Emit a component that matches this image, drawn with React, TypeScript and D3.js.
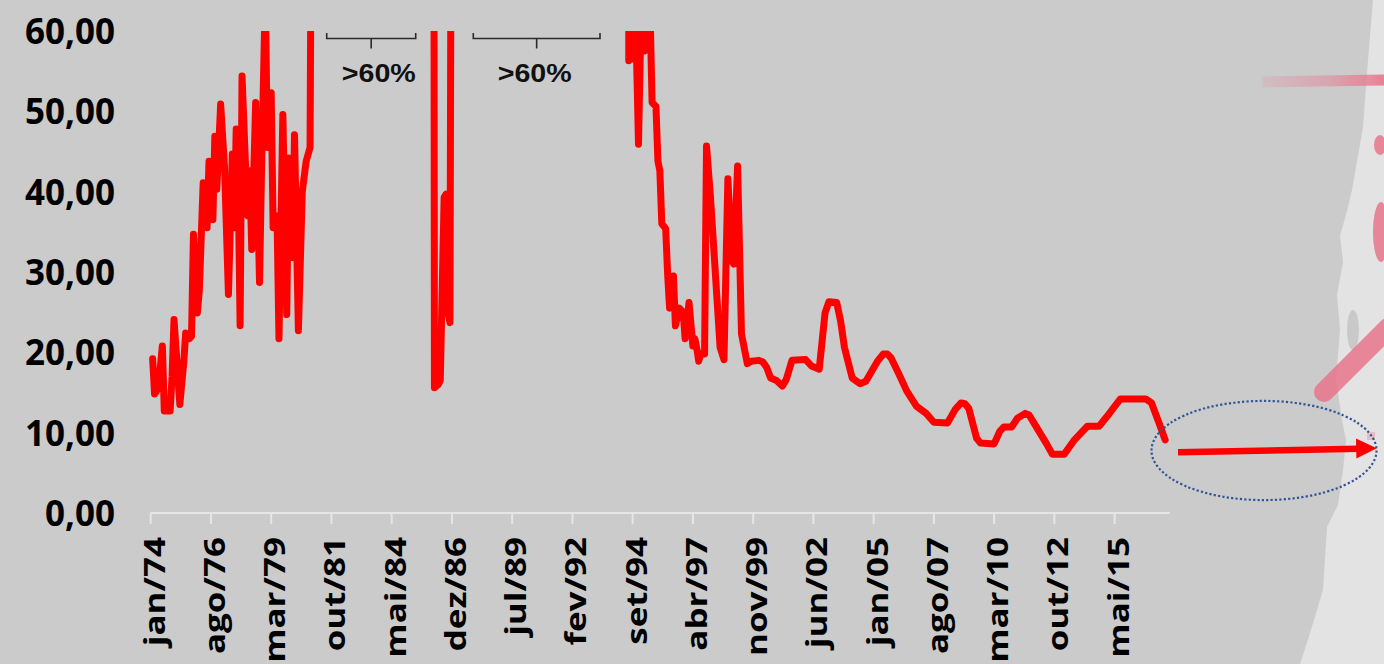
import React from "react";
import * as d3 from "d3";

// ---- data ----
const PT_MONTHS = ["jan", "fev", "mar", "abr", "mai", "jun", "jul", "ago", "set", "out", "nov", "dez"];

const xTickLabels = [
  "jan/74", "ago/76", "mar/79", "out/81", "mai/84", "dez/86", "jul/89", "fev/92", "set/94",
  "abr/97", "nov/99", "jun/02", "jan/05", "ago/07", "mar/10", "out/12", "mai/15",
];

const yTickValues = [0, 10, 20, 30, 40, 50, 60];

// Month of each observation (YYYY-MM) and the rate (% a.a.). Values > 60 are off the chart.
const rateDates = [
  "1974-02", "1974-03", "1974-05", "1974-07", "1974-08", "1974-11", "1974-12", "1975-01", "1975-04", "1975-06",
  "1975-07", "1975-09", "1975-10", "1975-11", "1976-01", "1976-02", "1976-04", "1976-06", "1976-07", "1976-09",
  "1976-10", "1976-11", "1977-01", "1977-03", "1977-05", "1977-07", "1977-08", "1977-09", "1977-10", "1977-11",
  "1977-12", "1978-02", "1978-03", "1978-04", "1978-05", "1978-07", "1978-09", "1978-10", "1978-12", "1979-01",
  "1979-03", "1979-04", "1979-06", "1979-07", "1979-09", "1979-11", "1979-12", "1980-02", "1980-03", "1980-05",
  "1980-07", "1980-09", "1980-11", "1980-12", "1982-01", "1983-01", "1984-01", "1985-01", "1986-02", "1986-03",
  "1986-05", "1986-06", "1986-08", "1986-09", "1986-10", "1986-11", "1986-12", "1988-01", "1989-01", "1990-01",
  "1991-01", "1992-01", "1993-01", "1994-01", "1994-06", "1994-07", "1994-08", "1994-09", "1994-10", "1994-11",
  "1994-12", "1995-01", "1995-02", "1995-03", "1995-04", "1995-05", "1995-06", "1995-07", "1995-09", "1995-10",
  "1995-11", "1995-12", "1996-02", "1996-03", "1996-04", "1996-06", "1996-07", "1996-09", "1996-11", "1996-12",
  "1997-02", "1997-04", "1997-05", "1997-06", "1997-07", "1997-08", "1997-10", "1997-11", "1998-01", "1998-06",
  "1998-08", "1998-10", "1998-12", "1999-01", "1999-03", "1999-05", "1999-08", "1999-10", "2000-02", "2000-04",
  "2000-06", "2000-08", "2000-11", "2001-02", "2001-04", "2001-07", "2002-02", "2002-05", "2002-09", "2002-12",
  "2003-02", "2003-06", "2003-08", "2003-10", "2004-02", "2004-06", "2004-09", "2005-03", "2005-06", "2005-08",
  "2005-10", "2006-02", "2006-06", "2006-11", "2007-04", "2007-08", "2008-03", "2008-07", "2008-10", "2008-12",
  "2009-02", "2009-06", "2009-08", "2010-03", "2010-06", "2010-08", "2010-12", "2011-03", "2011-07", "2011-09",
  "2012-01", "2012-06", "2012-09", "2013-03", "2013-08", "2014-03", "2014-09", "2015-02", "2015-08", "2016-09",
  "2016-12", "2017-04", "2017-07",
];

const rateValues = [
  19.2, 14.8, 15.6, 20.8, 12.7, 12.7, 17.0, 24.1, 13.5, 18.7,
  22.4, 21.7, 22.0, 34.7, 24.9, 27.6, 41.1, 35.5, 43.8, 36.5,
  46.9, 40.3, 50.9, 43.0, 27.2, 44.7, 35.5, 47.8, 42.0, 23.3,
  54.4, 42.0, 37.0, 42.6, 32.8, 51.1, 28.7, 42.2, 65.0, 45.5,
  52.3, 35.5, 37.0, 21.7, 49.6, 24.7, 44.2, 31.8, 47.1, 22.7,
  40.0, 43.8, 45.5, 95, 110, 150, 210, 220, 250, 15.6,
  16.0, 16.5, 39.3, 39.7, 25.0, 23.7, 120, 400, 900, 1200,
  800, 1100, 1500, 2500, 1800, 56.3, 62, 56.5, 62, 56.8,
  45.9, 58, 62, 57.5, 64, 68, 62, 51.1, 50.6, 43.8,
  42.6, 36.0, 35.4, 29.7, 25.5, 29.5, 23.3, 25.5, 25.0, 21.7,
  26.2, 20.8, 21.7, 20.5, 18.9, 19.8, 19.8, 45.7, 39.5, 20.6,
  19.1, 41.6, 31.4, 31.0, 43.2, 22.3, 18.6, 18.9, 19.0, 18.8,
  18.1, 16.8, 16.5, 15.8, 16.6, 19.0, 19.1, 18.3, 17.9, 24.9,
  26.3, 26.2, 23.9, 20.6, 16.8, 16.1, 16.4, 18.9, 19.8, 19.8,
  19.3, 17.3, 15.2, 13.3, 12.4, 11.3, 11.2, 12.9, 13.7, 13.6,
  13.0, 9.3, 8.7, 8.6, 10.2, 10.7, 10.7, 11.8, 12.4, 12.2,
  10.6, 8.6, 7.3, 7.3, 9.0, 10.8, 10.8, 12.3, 14.2, 14.2,
  13.7, 11.1, 9.1,
];

const offChartNote = ">60%";

// ---- helpers ----
const monthIndexOfDate = (s: string) => {
  const [yy, mm] = s.split("-").map(Number);
  return (yy - 1974) * 12 + (mm - 1);
};
const monthIndexOfLabel = (s: string) => {
  const [mon, yy] = s.split("/");
  const n = Number(yy);
  const year = n >= 50 ? 1900 + n : 2000 + n;
  return (year - 1974) * 12 + PT_MONTHS.indexOf(mon);
};

const W = 1384;
const H = 664;
const LABEL_FONT = "'Open Sans', 'Lato', sans-serif";

export default function App() {
  const x = d3.scaleLinear().domain([0, 524.5]).range([150.7, 1170]);
  const y = d3.scaleLinear().domain([0, 60]).range([513, 31]);

  const pts: [number, number][] = rateDates.map((d, i) => [monthIndexOfDate(d), rateValues[i]]);
  const line = d3
    .line<[number, number]>()
    .x((d) => x(d[0]))
    .y((d) => y(d[1]));

  const axisY = y(0);

  // light background silhouette on the right edge
  const silhouette: [number, number][] = [
    [1373, 0], [1368, 60], [1363, 127], [1352, 190], [1347, 211], [1340, 236], [1343, 262],
    [1337, 295], [1340, 330], [1336, 380], [1342, 420], [1346, 440], [1343, 470], [1338, 505],
    [1327, 527], [1323, 590], [1310, 633], [1300, 664], [W, 664], [W, 0],
  ];
  const silPath = d3.line()(silhouette) + "Z";

  const brackets = [
    { x0: 326.7, x1: 415.7, textX: 378.8 },
    { x0: 473.3, x1: 600, textX: 534.7 },
  ];

  return (
    <svg
      width={W}
      height={H}
      viewBox={`0 0 ${W} ${H}`}
      style={{ position: "absolute", left: 0, top: 0, display: "block" }}
    >
      <defs>
        <clipPath id="plotClip">
          <rect x={0} y={y(60)} width={W} height={H - y(60)} />
        </clipPath>
        <linearGradient id="pinkFade" x1="0" x2="1" y1="0" y2="0">
          <stop offset="0" stopColor="#e8768c" stopOpacity={0.15} />
          <stop offset="0.55" stopColor="#e8768c" stopOpacity={0.45} />
          <stop offset="1" stopColor="#e8768c" stopOpacity={0.9} />
        </linearGradient>
      </defs>

      {/* background */}
      <rect x={0} y={0} width={W} height={H} fill="#cbcbcb" />
      <path d={silPath} fill="#e3e3e3" />
      <ellipse cx={1353} cy={330} rx={6} ry={20} fill="#c9c9c9" />
      {/* faint pink decorations */}
      <line x1={1262} y1={82} x2={W} y2={80} stroke="url(#pinkFade)" strokeWidth={11} />
      <ellipse cx={1380} cy={145} rx={6} ry={10} fill="#e8768c" opacity={0.85} />
      <ellipse cx={1381} cy={232} rx={8} ry={30} fill="#e8768c" opacity={0.85} />
      <line x1={1324} y1={392} x2={W + 4} y2={328} stroke="#e8768c" strokeOpacity={0.85} strokeWidth={20} strokeLinecap="round" />
      <rect x={1367} y={432} width={8} height={8} fill="#e8768c" opacity={0.35} />

      {/* x axis */}
      <line x1={x(0)} x2={x(524.5)} y1={axisY} y2={axisY} stroke="#e6e6e6" strokeWidth={2} />
      {xTickLabels.map((lab) => {
        const m = monthIndexOfLabel(lab);
        const tx = x(m);
        return (
          <g key={lab}>
            <line x1={tx} x2={tx} y1={axisY} y2={axisY + 11} stroke="#e6e6e6" strokeWidth={2} />
            <text
              transform={`translate(${tx + 14},${axisY + 24}) rotate(-90) scale(1,0.8)`}
              textAnchor="end"
              fontFamily={LABEL_FONT}
              fontWeight={700}
              fontSize={35}
              fill="#000"
            >
              {lab}
            </text>
          </g>
        );
      })}

      {/* y labels */}
      {yTickValues.map((v) => (
        <text
          key={v}
          x={115}
          y={y(v) + 13}
          textAnchor="end"
          fontFamily={LABEL_FONT}
          fontWeight={700}
          fontSize={35}
          fill="#000"
        >
          {v.toFixed(2).replace(".", ",")}
        </text>
      ))}

      {/* data line */}
      <g clipPath="url(#plotClip)">
        <path
          d={line(pts) || ""}
          fill="none"
          stroke="#ff0000"
          strokeWidth={7}
          strokeLinejoin="round"
          strokeLinecap="round"
        />
      </g>

      {/* >60% brackets */}
      {brackets.map((b, i) => (
        <g key={i}>
          <path
            d={`M${b.x0},33 V38.5 H${b.x1} V33 M${(b.x0 + b.x1) / 2},38.5 V48.5`}
            fill="none"
            stroke="#2b2b2b"
            strokeWidth={1.6}
          />
          <text
            x={b.textX}
            y={81.7}
            textAnchor="middle"
            fontFamily="'Liberation Sans', Arial, sans-serif"
            fontWeight={700}
            fontSize={26}
            textLength={74}
            lengthAdjust="spacingAndGlyphs"
            fill="#111"
          >
            {offChartNote}
          </text>
        </g>
      ))}

      {/* projection arrow and dotted ellipse */}
      <ellipse
        cx={1264}
        cy={450.5}
        rx={112.5}
        ry={49.6}
        fill="none"
        stroke="#2f5597"
        strokeWidth={2.2}
        strokeDasharray="2.2 2.2"
      />
      <line x1={1178} y1={452.3} x2={1358} y2={448.7} stroke="#ff0000" strokeWidth={6.5} />
      <path d="M1356,438.5 L1376.7,448.3 L1356.4,458.5 Z" fill="#ff0000" />
    </svg>
  );
}
